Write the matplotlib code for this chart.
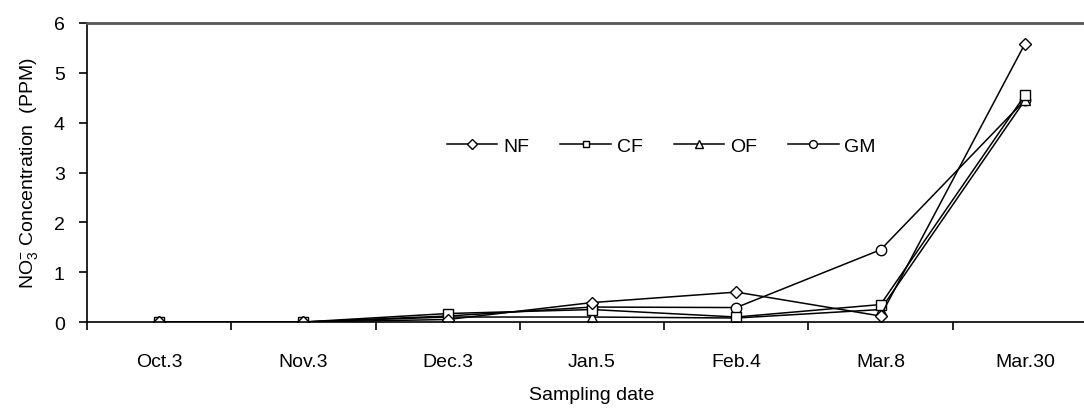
import numpy as np
import matplotlib
matplotlib.use("Agg")
import matplotlib.pyplot as plt

plt.rcParams['font.family'] = ['Liberation Sans', 'DejaVu Sans']
plt.rcParams['mathtext.default'] = 'regular'

dates = ["Oct.3", "Nov.3", "Dec.3", "Jan.5", "Feb.4", "Mar.8", "Mar.30"]
nf = [0.0, 0.0, 0.05, 0.39, 0.60, 0.12, 5.58]
cf = [0.0, 0.0, 0.17, 0.25, 0.10, 0.35, 4.55]
of = [0.0, 0.0, 0.10, 0.10, 0.08, 0.25, 4.45]
gm = [0.0, 0.0, 0.12, 0.30, 0.29, 1.45, 4.45]

W, H = 1084, 410
fig = plt.figure(figsize=(W / 100, H / 100), dpi=100)
# axis box runs a little past the right edge, like the original
ax = fig.add_axes([87 / W, 1 - 323 / H, 1010 / W, 299 / H])

x = np.arange(len(dates))
style = dict(color="black", lw=1.1, mfc="white", mec="black", mew=1.0)
ax.plot(x, gm, marker="o", ms=7.5, label="GM", **style)
ax.plot(x, of, marker="^", ms=7.5, label="OF", **style)
ax.plot(x, cf, marker="s", ms=6.5, label="CF", **style)
ax.plot(x, nf, marker="D", ms=6.5, label="NF", **style)

ax.set_xlim(-0.5, len(dates) - 0.5)
ax.set_ylim(0, 6)
ax.set_yticks(range(7))
ax.set_xticks(x)
ax.set_xticklabels(dates)
ax.set_xticks(np.arange(len(dates) + 1) - 0.5, minor=True)
ax.tick_params(axis="x", which="major", length=0, pad=22, labelsize=14)
ax.tick_params(axis="x", which="minor", length=6, width=1.2, direction="out")
ax.tick_params(axis="y", length=6, width=1.2, direction="out", pad=10, labelsize=14)

for s in ax.spines.values():
    s.set_linewidth(1.2)
ax.spines["top"].set_color("#555555")
ax.spines["top"].set_linewidth(2)

ax.set_xlabel("Sampling date", fontsize=14, labelpad=12)
ax.set_ylabel(r"NO$^{-}_{3}$ Concentration  (PPM)", fontsize=14, labelpad=10)

h, l = ax.get_legend_handles_labels()
order = [3, 2, 1, 0]
leg = fig.legend([h[i] for i in order], [l[i] for i in order],
                 loc="center left", bbox_to_anchor=(437 / W, 1 - 147 / H),
                 ncol=4, frameon=False, fontsize=14, borderpad=0,
                 handlelength=2.6, handletextpad=0.3, columnspacing=1.6,
                 markerscale=0.75)

fig.savefig("out.png", dpi=100)
